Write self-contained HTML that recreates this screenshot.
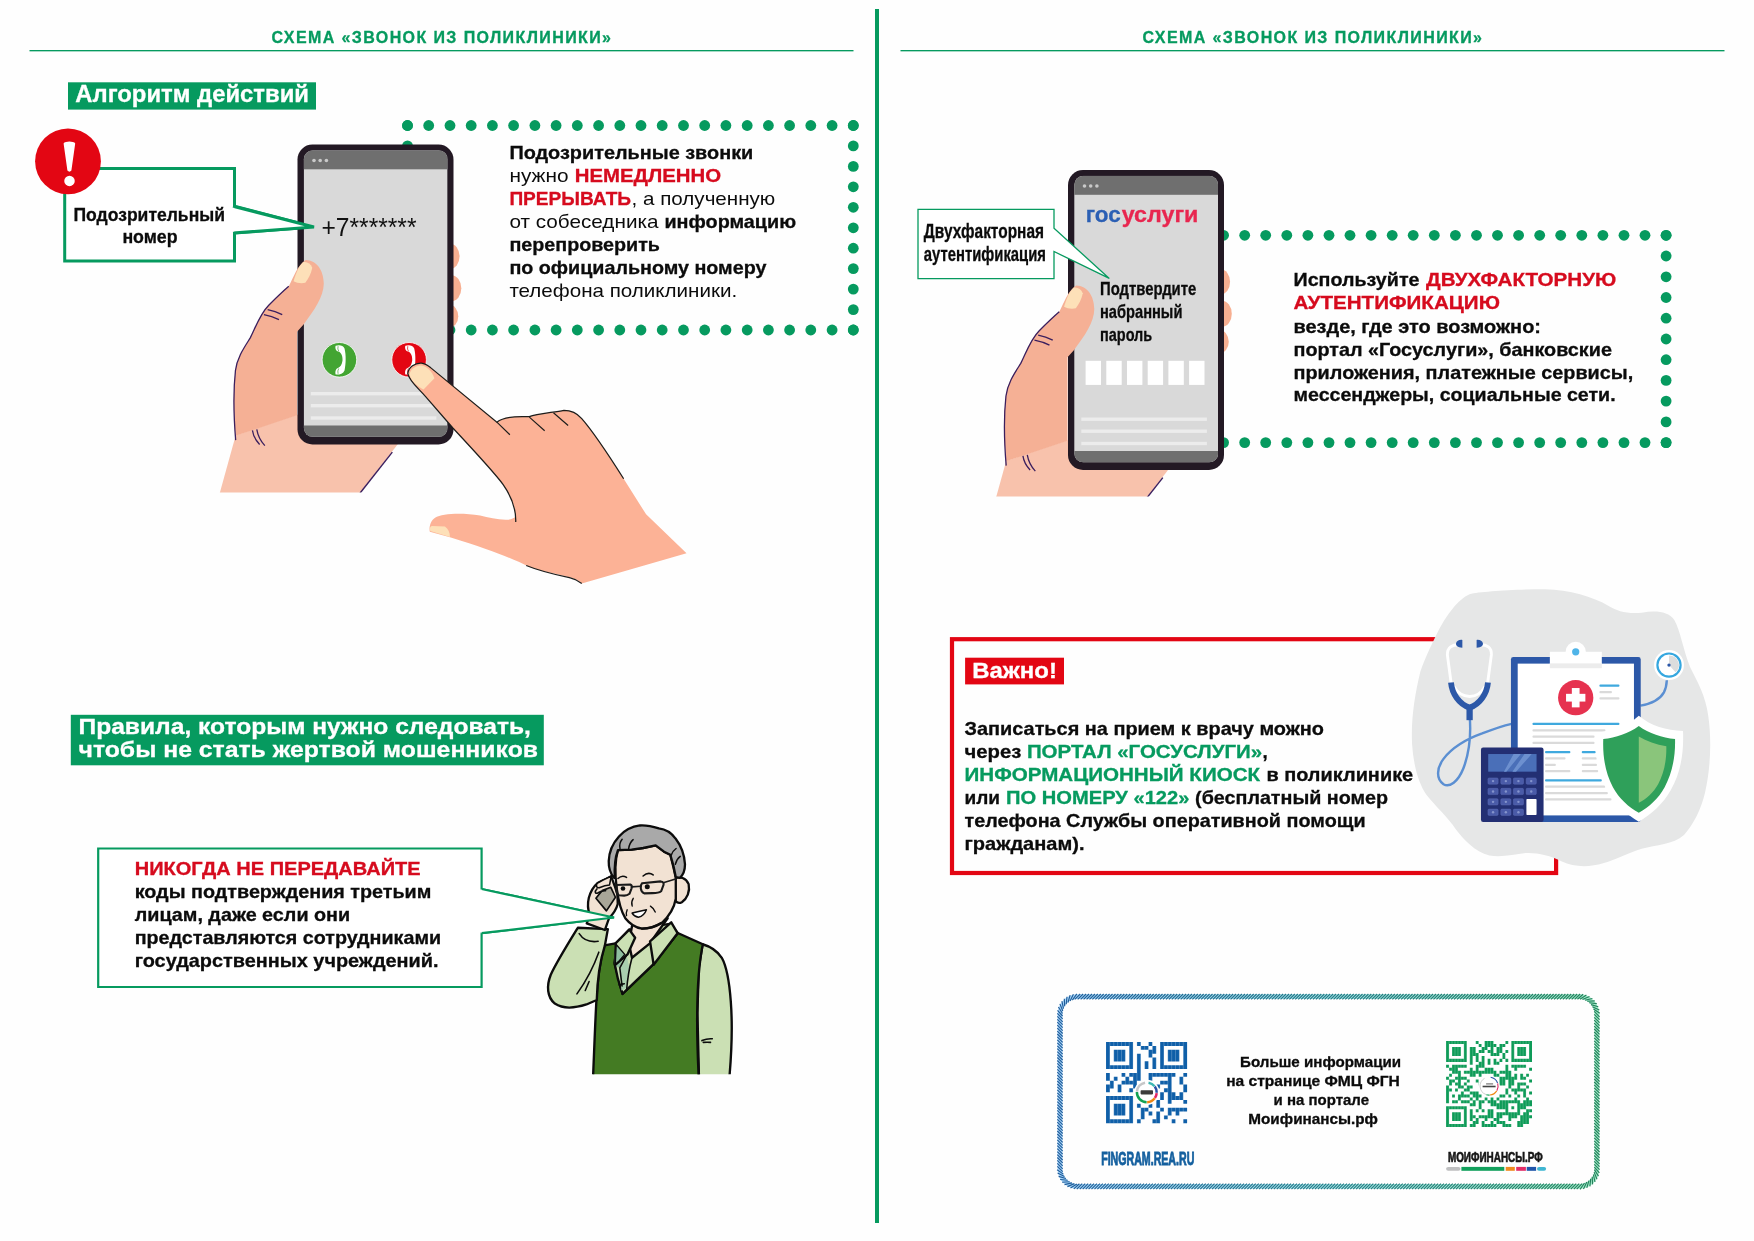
<!DOCTYPE html>
<html lang="ru"><head><meta charset="utf-8"><title>Схема «Звонок из поликлиники»</title>
<style>
html,body{margin:0;padding:0;background:#fff;}
body{width:1754px;height:1241px;overflow:hidden;font-family:"Liberation Sans",sans-serif;}
svg{display:block;}
svg text{font-family:"Liberation Sans",sans-serif;}
</style></head><body>
<svg width="1754" height="1241" viewBox="0 0 1754 1241">
<rect width="1754" height="1241" fill="#fefefe"/>
<defs><filter id="aa" filterUnits="userSpaceOnUse" x="0" y="0" width="1754" height="1241" color-interpolation-filters="sRGB"><feOffset dx="0" dy="0"/></filter></defs>
<g filter="url(#aa)">
<!-- s1_base -->
<rect x="875" y="9" width="4" height="1214" fill="#069A5F"/>
<rect x="29.5" y="50.0" width="824" height="1.35" fill="#069A5F"/>
<rect x="900.5" y="50.0" width="824" height="1.35" fill="#069A5F"/>
<text x="271.5" y="43.3" font-size="16.0" font-weight="bold" fill="#069A5F" textLength="339.5" lengthAdjust="spacing"  stroke="#069A5F" stroke-width="0.3">СХЕМА «ЗВОНОК ИЗ ПОЛИКЛИНИКИ»</text>
<text x="1142.5" y="43.3" font-size="16.0" font-weight="bold" fill="#069A5F" textLength="339.5" lengthAdjust="spacing"  stroke="#069A5F" stroke-width="0.3">СХЕМА «ЗВОНОК ИЗ ПОЛИКЛИНИКИ»</text>
<rect x="68" y="82.3" width="248" height="27.3" fill="#069A5F"/>
<text x="75.3" y="102.1" font-size="23.4" font-weight="bold" fill="#fff" textLength="233.7" lengthAdjust="spacingAndGlyphs"  stroke="#fff" stroke-width="0.3">Алгоритм действий</text>
<rect x="70.8" y="714.8" width="473" height="50.5" fill="#069A5F"/>
<text x="78.5" y="734.2" font-size="22.2" font-weight="bold" fill="#fff" textLength="452.4" lengthAdjust="spacingAndGlyphs"  stroke="#fff" stroke-width="0.3">Правила, которым нужно следовать,</text>
<text x="78.5" y="757.3" font-size="22.2" font-weight="bold" fill="#fff" textLength="459.5" lengthAdjust="spacingAndGlyphs"  stroke="#fff" stroke-width="0.3">чтобы не стать жертвой мошенников</text>
<g fill="#069A5F"><circle cx="407.5" cy="125.5" r="5.4"/><circle cx="428.7" cy="125.5" r="5.4"/><circle cx="450.0" cy="125.5" r="5.4"/><circle cx="471.2" cy="125.5" r="5.4"/><circle cx="492.4" cy="125.5" r="5.4"/><circle cx="513.6" cy="125.5" r="5.4"/><circle cx="534.9" cy="125.5" r="5.4"/><circle cx="556.1" cy="125.5" r="5.4"/><circle cx="577.3" cy="125.5" r="5.4"/><circle cx="598.6" cy="125.5" r="5.4"/><circle cx="619.8" cy="125.5" r="5.4"/><circle cx="641.0" cy="125.5" r="5.4"/><circle cx="662.2" cy="125.5" r="5.4"/><circle cx="683.5" cy="125.5" r="5.4"/><circle cx="704.7" cy="125.5" r="5.4"/><circle cx="725.9" cy="125.5" r="5.4"/><circle cx="747.2" cy="125.5" r="5.4"/><circle cx="768.4" cy="125.5" r="5.4"/><circle cx="789.6" cy="125.5" r="5.4"/><circle cx="810.8" cy="125.5" r="5.4"/><circle cx="832.1" cy="125.5" r="5.4"/><circle cx="853.3" cy="125.5" r="5.4"/><circle cx="407.5" cy="330.0" r="5.4"/><circle cx="428.7" cy="330.0" r="5.4"/><circle cx="450.0" cy="330.0" r="5.4"/><circle cx="471.2" cy="330.0" r="5.4"/><circle cx="492.4" cy="330.0" r="5.4"/><circle cx="513.6" cy="330.0" r="5.4"/><circle cx="534.9" cy="330.0" r="5.4"/><circle cx="556.1" cy="330.0" r="5.4"/><circle cx="577.3" cy="330.0" r="5.4"/><circle cx="598.6" cy="330.0" r="5.4"/><circle cx="619.8" cy="330.0" r="5.4"/><circle cx="641.0" cy="330.0" r="5.4"/><circle cx="662.2" cy="330.0" r="5.4"/><circle cx="683.5" cy="330.0" r="5.4"/><circle cx="704.7" cy="330.0" r="5.4"/><circle cx="725.9" cy="330.0" r="5.4"/><circle cx="747.2" cy="330.0" r="5.4"/><circle cx="768.4" cy="330.0" r="5.4"/><circle cx="789.6" cy="330.0" r="5.4"/><circle cx="810.8" cy="330.0" r="5.4"/><circle cx="832.1" cy="330.0" r="5.4"/><circle cx="853.3" cy="330.0" r="5.4"/><circle cx="853.3" cy="125.5" r="5.4"/><circle cx="853.3" cy="145.9" r="5.4"/><circle cx="853.3" cy="166.4" r="5.4"/><circle cx="853.3" cy="186.8" r="5.4"/><circle cx="853.3" cy="207.3" r="5.4"/><circle cx="853.3" cy="227.8" r="5.4"/><circle cx="853.3" cy="248.2" r="5.4"/><circle cx="853.3" cy="268.6" r="5.4"/><circle cx="853.3" cy="289.1" r="5.4"/><circle cx="853.3" cy="309.6" r="5.4"/><circle cx="853.3" cy="330.0" r="5.4"/><circle cx="407.5" cy="125.5" r="5.4"/><circle cx="407.5" cy="145.9" r="5.4"/><circle cx="407.5" cy="166.4" r="5.4"/><circle cx="407.5" cy="186.8" r="5.4"/><circle cx="407.5" cy="207.3" r="5.4"/><circle cx="407.5" cy="227.8" r="5.4"/><circle cx="407.5" cy="248.2" r="5.4"/><circle cx="407.5" cy="268.6" r="5.4"/><circle cx="407.5" cy="289.1" r="5.4"/><circle cx="407.5" cy="309.6" r="5.4"/><circle cx="407.5" cy="330.0" r="5.4"/></g>
<g fill="#069A5F"><circle cx="1223.6" cy="235.3" r="5.4"/><circle cx="1244.7" cy="235.3" r="5.4"/><circle cx="1265.7" cy="235.3" r="5.4"/><circle cx="1286.8" cy="235.3" r="5.4"/><circle cx="1307.9" cy="235.3" r="5.4"/><circle cx="1329.0" cy="235.3" r="5.4"/><circle cx="1350.0" cy="235.3" r="5.4"/><circle cx="1371.1" cy="235.3" r="5.4"/><circle cx="1392.2" cy="235.3" r="5.4"/><circle cx="1413.2" cy="235.3" r="5.4"/><circle cx="1434.3" cy="235.3" r="5.4"/><circle cx="1455.4" cy="235.3" r="5.4"/><circle cx="1476.5" cy="235.3" r="5.4"/><circle cx="1497.5" cy="235.3" r="5.4"/><circle cx="1518.6" cy="235.3" r="5.4"/><circle cx="1539.7" cy="235.3" r="5.4"/><circle cx="1560.7" cy="235.3" r="5.4"/><circle cx="1581.8" cy="235.3" r="5.4"/><circle cx="1602.9" cy="235.3" r="5.4"/><circle cx="1624.0" cy="235.3" r="5.4"/><circle cx="1645.0" cy="235.3" r="5.4"/><circle cx="1666.1" cy="235.3" r="5.4"/><circle cx="1223.6" cy="442.6" r="5.4"/><circle cx="1244.7" cy="442.6" r="5.4"/><circle cx="1265.7" cy="442.6" r="5.4"/><circle cx="1286.8" cy="442.6" r="5.4"/><circle cx="1307.9" cy="442.6" r="5.4"/><circle cx="1329.0" cy="442.6" r="5.4"/><circle cx="1350.0" cy="442.6" r="5.4"/><circle cx="1371.1" cy="442.6" r="5.4"/><circle cx="1392.2" cy="442.6" r="5.4"/><circle cx="1413.2" cy="442.6" r="5.4"/><circle cx="1434.3" cy="442.6" r="5.4"/><circle cx="1455.4" cy="442.6" r="5.4"/><circle cx="1476.5" cy="442.6" r="5.4"/><circle cx="1497.5" cy="442.6" r="5.4"/><circle cx="1518.6" cy="442.6" r="5.4"/><circle cx="1539.7" cy="442.6" r="5.4"/><circle cx="1560.7" cy="442.6" r="5.4"/><circle cx="1581.8" cy="442.6" r="5.4"/><circle cx="1602.9" cy="442.6" r="5.4"/><circle cx="1624.0" cy="442.6" r="5.4"/><circle cx="1645.0" cy="442.6" r="5.4"/><circle cx="1666.1" cy="442.6" r="5.4"/><circle cx="1666.1" cy="235.3" r="5.4"/><circle cx="1666.1" cy="256.0" r="5.4"/><circle cx="1666.1" cy="276.8" r="5.4"/><circle cx="1666.1" cy="297.5" r="5.4"/><circle cx="1666.1" cy="318.2" r="5.4"/><circle cx="1666.1" cy="339.0" r="5.4"/><circle cx="1666.1" cy="359.7" r="5.4"/><circle cx="1666.1" cy="380.4" r="5.4"/><circle cx="1666.1" cy="401.1" r="5.4"/><circle cx="1666.1" cy="421.9" r="5.4"/><circle cx="1666.1" cy="442.6" r="5.4"/></g>
<text x="509.4" y="159.2" font-size="18.5" font-weight="bold" fill="#0b0b0b" textLength="243.9" lengthAdjust="spacingAndGlyphs"  stroke="#0b0b0b" stroke-width="0.3">Подозрительные звонки</text>
<text x="509.4" y="181.9" font-size="18.5" font-weight="normal" fill="#0b0b0b" textLength="59.1" lengthAdjust="spacingAndGlyphs" >нужно</text>
<text x="574.7" y="181.9" font-size="18.5" font-weight="bold" fill="#D60B1E" textLength="146.4" lengthAdjust="spacingAndGlyphs"  stroke="#D60B1E" stroke-width="0.3">НЕМЕДЛЕННО</text>
<text x="509.4" y="205.0" font-size="18.5" font-weight="bold" fill="#D60B1E" textLength="121.7" lengthAdjust="spacingAndGlyphs"  stroke="#D60B1E" stroke-width="0.3">ПРЕРЫВАТЬ</text>
<text x="631.6" y="205.0" font-size="18.5" font-weight="normal" fill="#0b0b0b" textLength="143.7" lengthAdjust="spacingAndGlyphs" >, а полученную</text>
<text x="509.4" y="227.8" font-size="18.5" font-weight="normal" fill="#0b0b0b" textLength="149.1" lengthAdjust="spacingAndGlyphs" >от собеседника</text>
<text x="664.4" y="227.8" font-size="18.5" font-weight="bold" fill="#0b0b0b" textLength="131.7" lengthAdjust="spacingAndGlyphs"  stroke="#0b0b0b" stroke-width="0.3">информацию</text>
<text x="509.4" y="250.8" font-size="18.5" font-weight="bold" fill="#0b0b0b" textLength="150.6" lengthAdjust="spacingAndGlyphs"  stroke="#0b0b0b" stroke-width="0.3">перепроверить</text>
<text x="509.4" y="273.6" font-size="18.5" font-weight="bold" fill="#0b0b0b" textLength="257.0" lengthAdjust="spacingAndGlyphs"  stroke="#0b0b0b" stroke-width="0.3">по официальному номеру</text>
<text x="509.4" y="296.7" font-size="18.5" font-weight="normal" fill="#0b0b0b" textLength="227.8" lengthAdjust="spacingAndGlyphs" >телефона поликлиники.</text>
<text x="1293.5" y="286.1" font-size="18.5" font-weight="bold" fill="#0b0b0b" textLength="126.0" lengthAdjust="spacingAndGlyphs"  stroke="#0b0b0b" stroke-width="0.3">Используйте</text>
<text x="1426.0" y="286.1" font-size="18.5" font-weight="bold" fill="#D60B1E" textLength="190.2" lengthAdjust="spacingAndGlyphs"  stroke="#D60B1E" stroke-width="0.3">ДВУХФАКТОРНУЮ</text>
<text x="1293.5" y="309.2" font-size="18.5" font-weight="bold" fill="#D60B1E" textLength="206.4" lengthAdjust="spacingAndGlyphs"  stroke="#D60B1E" stroke-width="0.3">АУТЕНТИФИКАЦИЮ</text>
<text x="1293.5" y="332.6" font-size="18.5" font-weight="bold" fill="#0b0b0b" textLength="247.5" lengthAdjust="spacingAndGlyphs"  stroke="#0b0b0b" stroke-width="0.3">везде, где это возможно:</text>
<text x="1293.5" y="356.0" font-size="18.5" font-weight="bold" fill="#0b0b0b" textLength="318.4" lengthAdjust="spacingAndGlyphs"  stroke="#0b0b0b" stroke-width="0.3">портал «Госуслуги», банковские</text>
<text x="1293.5" y="379.0" font-size="18.5" font-weight="bold" fill="#0b0b0b" textLength="339.8" lengthAdjust="spacingAndGlyphs"  stroke="#0b0b0b" stroke-width="0.3">приложения, платежные сервисы,</text>
<text x="1293.5" y="401.0" font-size="18.5" font-weight="bold" fill="#0b0b0b" textLength="322.1" lengthAdjust="spacingAndGlyphs"  stroke="#0b0b0b" stroke-width="0.3">мессенджеры, социальные сети.</text>
<path d="M64.7,168.6 H234.5 V206.2 L314,227 L234.5,233 V261 H64.7 Z" fill="#fff" stroke="#069A5F" stroke-width="3" stroke-linejoin="miter"/>
<text x="73.5" y="220.8" font-size="18" font-weight="bold" fill="#0b0b0b" textLength="151.5" lengthAdjust="spacingAndGlyphs"  stroke="#0b0b0b" stroke-width="0.3">Подозрительный</text>
<text x="122.4" y="242.9" font-size="18" font-weight="bold" fill="#0b0b0b" textLength="55.2" lengthAdjust="spacingAndGlyphs"  stroke="#0b0b0b" stroke-width="0.3">номер</text>
<circle cx="68" cy="161.3" r="32.9" fill="#E30613"/>
<path d="M63.6,143.4 Q64,142 66,141.9 Q69.4,141.3 72.8,141.9 Q74.9,142 75.2,143.4 L71.4,170.6 Q69.4,172.8 67.4,170.6 Z" fill="#fff"/><circle cx="69.5" cy="180.9" r="5.25" fill="#fff"/>
<path d="M98.2,848.5 H481.6 V889 L614,917.5 L481.6,933.2 V987 H98.2 Z" fill="#fff" stroke="#069A5F" stroke-width="2.2"/>
<text x="134.7" y="874.5" font-size="18.5" font-weight="bold" fill="#D60B1E" textLength="285.9" lengthAdjust="spacingAndGlyphs"  stroke="#D60B1E" stroke-width="0.3">НИКОГДА НЕ ПЕРЕДАВАЙТЕ</text>
<text x="134.7" y="897.5" font-size="18.5" font-weight="bold" fill="#0b0b0b" textLength="296.7" lengthAdjust="spacingAndGlyphs"  stroke="#0b0b0b" stroke-width="0.3">коды подтверждения третьим</text>
<text x="134.7" y="920.9" font-size="18.5" font-weight="bold" fill="#0b0b0b" textLength="215.5" lengthAdjust="spacingAndGlyphs"  stroke="#0b0b0b" stroke-width="0.3">лицам, даже если они</text>
<text x="134.7" y="943.7" font-size="18.5" font-weight="bold" fill="#0b0b0b" textLength="306.4" lengthAdjust="spacingAndGlyphs"  stroke="#0b0b0b" stroke-width="0.3">представляются сотрудниками</text>
<text x="134.7" y="967.1" font-size="18.5" font-weight="bold" fill="#0b0b0b" textLength="303.9" lengthAdjust="spacingAndGlyphs"  stroke="#0b0b0b" stroke-width="0.3">государственных учреждений.</text>
<rect x="952" y="639.2" width="604.1" height="233.8" fill="none" stroke="#E30613" stroke-width="4.2"/>
<rect x="965.1" y="657.7" width="98.9" height="26.7" fill="#E30613"/>
<text x="972.2" y="677.6" font-size="22" font-weight="bold" fill="#fff" textLength="84.7" lengthAdjust="spacingAndGlyphs"  stroke="#fff" stroke-width="0.3">Важно!</text>
<text x="964.5" y="734.9" font-size="18.5" font-weight="bold" fill="#0b0b0b" textLength="359.5" lengthAdjust="spacingAndGlyphs"  stroke="#0b0b0b" stroke-width="0.3">Записаться на прием к врачу можно</text>
<text x="964.5" y="757.7" font-size="18.5" font-weight="bold" fill="#0b0b0b" textLength="56.8" lengthAdjust="spacingAndGlyphs"  stroke="#0b0b0b" stroke-width="0.3">через</text>
<text x="1026.9" y="757.7" font-size="18.5" font-weight="bold" fill="#069A5F" textLength="235.2" lengthAdjust="spacingAndGlyphs"  stroke="#069A5F" stroke-width="0.3">ПОРТАЛ «ГОСУСЛУГИ»</text>
<text x="1262.6" y="757.7" font-size="18.5" font-weight="bold" fill="#0b0b0b" textLength="5.2" lengthAdjust="spacingAndGlyphs"  stroke="#0b0b0b" stroke-width="0.3">,</text>
<text x="964.5" y="781.1" font-size="18.5" font-weight="bold" fill="#069A5F" textLength="295.6" lengthAdjust="spacingAndGlyphs"  stroke="#069A5F" stroke-width="0.3">ИНФОРМАЦИОННЫЙ КИОСК</text>
<text x="1266.4" y="781.1" font-size="18.5" font-weight="bold" fill="#0b0b0b" textLength="146.8" lengthAdjust="spacingAndGlyphs"  stroke="#0b0b0b" stroke-width="0.3">в поликлинике</text>
<text x="964.5" y="803.9" font-size="18.5" font-weight="bold" fill="#0b0b0b" textLength="35.5" lengthAdjust="spacingAndGlyphs"  stroke="#0b0b0b" stroke-width="0.3">или</text>
<text x="1006.1" y="803.9" font-size="18.5" font-weight="bold" fill="#069A5F" textLength="183.3" lengthAdjust="spacingAndGlyphs"  stroke="#069A5F" stroke-width="0.3">ПО НОМЕРУ «122»</text>
<text x="1195.1" y="803.9" font-size="18.5" font-weight="bold" fill="#0b0b0b" textLength="193.0" lengthAdjust="spacingAndGlyphs"  stroke="#0b0b0b" stroke-width="0.3">(бесплатный номер</text>
<text x="964.5" y="827.3" font-size="18.5" font-weight="bold" fill="#0b0b0b" textLength="401.1" lengthAdjust="spacingAndGlyphs"  stroke="#0b0b0b" stroke-width="0.3">телефона Службы оперативной помощи</text>
<text x="964.5" y="850.0" font-size="18.5" font-weight="bold" fill="#0b0b0b" textLength="120.0" lengthAdjust="spacingAndGlyphs"  stroke="#0b0b0b" stroke-width="0.3">гражданам).</text>
<!-- s2_phones -->
<clipPath id="hc1"><rect x="0" y="0" width="1754" height="492.4"/></clipPath>
<g clip-path="url(#hc1)"><g transform="translate(210,240) scale(0.21758)">
<path d="M118,898 L400,803 L900,803 L862,940 L582,1300 L7,1300 Z" fill="#F8C2AC"/>
<path d="M838,975 L690,1163" stroke="#3B1F5E" stroke-width="6.5" fill="none"/>
<ellipse cx="1104" cy="75" rx="43" ry="58" fill="#F7AF91"/><ellipse cx="1110" cy="222" rx="45" ry="60" fill="#F7AF91"/><ellipse cx="1100" cy="350" rx="41" ry="52" fill="#F7AF91"/>
</g></g>
<g transform="translate(297.5,144.5)">
<rect x="0" y="0" width="156" height="300" rx="15" fill="#231924"/>
<clipPath id="scr297"><rect x="6.3" y="5.8" width="143.9" height="286.5" rx="9"/></clipPath>
<g clip-path="url(#scr297)"><rect x="6" y="5.8" width="144" height="287" fill="#D9D9D9"/><rect x="6" y="5.8" width="144" height="19" fill="#6F6F6F"/><rect x="6" y="281" width="144" height="12" fill="#6F6F6F"/></g>
<circle cx="16.5" cy="16" r="1.8" fill="#C9C9C9"/><circle cx="22.7" cy="16" r="1.8" fill="#C9C9C9"/><circle cx="28.9" cy="16" r="1.8" fill="#C9C9C9"/>
<rect x="13.3" y="247.5" width="125.6" height="3.4" fill="#ECECEC"/><rect x="13.3" y="259.5" width="125.6" height="3.4" fill="#ECECEC"/><rect x="13.3" y="271.8" width="125.6" height="3.4" fill="#ECECEC"/></g>
<text x="321.5" y="236.2" font-size="25.5" fill="#111" textLength="95" lengthAdjust="spacingAndGlyphs">+7*******</text>
<g transform="translate(339.4,359.8)"><circle r="17.3" fill="#43A532" stroke="#fff" stroke-width="0.8"/><path d="M-3.76,-14.02 C-4.45,-11.97 -3.76,-8.89 -1.03,-8.21 C2.39,-7.18 3.42,-2.39 3.08,1.03 C2.39,5.13 1.03,7.18 -1.03,7.87 C-3.76,8.55 -4.45,11.97 -3.76,14.71 C-0.34,15.05 3.76,14.02 5.13,10.6 C6.5,4.45 6.84,-4.45 5.13,-11.29 C3.76,-14.71 -0.34,-15.05 -3.76,-14.02 Z" fill="#fff"/><path d="M-1.3,-13.6 Q-2.2,-10.5 -0.6,-8.6 M-1.3,14 Q-2.2,11 -0.6,8.6" stroke="#43A532" stroke-width="0.7" fill="none"/></g>
<g transform="translate(409.1,359.8)"><circle r="17.3" fill="#E30613" stroke="#fff" stroke-width="0.8"/><path d="M-3.76,-14.02 C-4.45,-11.97 -3.76,-8.89 -1.03,-8.21 C2.39,-7.18 3.42,-2.39 3.08,1.03 C2.39,5.13 1.03,7.18 -1.03,7.87 C-3.76,8.55 -4.45,11.97 -3.76,14.71 C-0.34,15.05 3.76,14.02 5.13,10.6 C6.5,4.45 6.84,-4.45 5.13,-11.29 C3.76,-14.71 -0.34,-15.05 -3.76,-14.02 Z" fill="#fff"/><path d="M-1.3,-13.6 Q-2.2,-10.5 -0.6,-8.6 M-1.3,14 Q-2.2,11 -0.6,8.6" stroke="#E30613" stroke-width="0.7" fill="none"/></g>
<g clip-path="url(#hc1)"><g transform="translate(210,240) scale(0.21758)">
<path d="M440,92 C492,94 522,140 523,200 C522,262 480,322 430,388 L400,422 L400,805 L118,900 C108,800 106,700 117,600 C124,540 160,490 185,450 C210,400 230,340 270,300 C300,270 340,232 362,213 C385,170 400,118 440,92 Z" fill="#F5B095"/>
<path d="M362,213 C340,232 300,270 270,300 C230,340 210,400 185,450 C160,490 124,540 117,600 C106,700 108,800 118,920" stroke="#3B1F5E" stroke-width="6" fill="none"/>
<path d="M265,320 Q300,326 332,343 M248,343 Q285,350 317,366" stroke="#3B1F5E" stroke-width="6" fill="none"/>
<path d="M195,875 Q200,910 228,940 M215,870 Q222,912 252,945" stroke="#3B1F5E" stroke-width="6" fill="none"/>
<path d="M384,190 C395,150 410,118 428,102 C445,98 462,108 470,128 C465,155 452,178 438,197 C420,202 398,198 384,190 Z" fill="#FDE0B8"/>
</g></g>
<path d="M233,206.2 L314,227 L233,233" fill="#fff" stroke="#069A5F" stroke-width="3"/>
<rect x="228" y="207.8" width="6.2" height="23.8" fill="#fff"/>
<g transform="translate(390,340) scale(0.20956)">
<path d="M85,160 C88,130 120,108 150,110 C170,112 185,125 195,133 L510,392 C535,372 585,362 665,366 C700,352 780,346 830,336 C870,336 895,352 915,375 C950,415 1000,480 1115,662 L1222,832 L1415,1018 L915,1162 C890,1138 860,1132 760,1110 C720,1100 680,1088 650,1076 C600,1050 480,1000 290,942 L190,915 C185,890 195,860 215,848 C250,828 340,822 430,838 C470,848 520,860 560,858 C580,856 592,850 598,845 C600,800 575,740 540,690 C500,635 440,570 300,420 L170,270 C130,225 95,195 85,160 Z" fill="#FCB296"/>
<path d="M600,868 C602,800 575,740 540,690 C500,635 440,570 300,420 L170,270 C130,225 92,195 85,160 C88,130 120,108 150,110 C170,112 185,125 195,133 L510,392 C535,372 585,362 665,366 C700,352 780,346 830,336 C870,336 895,352 915,375 C950,415 1000,480 1115,662" stroke="#1d1d1b" stroke-width="6" fill="none"/>
<path d="M510,392 L572,452 M665,368 L738,433 M780,347 L850,408" stroke="#1d1d1b" stroke-width="5.5" fill="none"/>
<path d="M650,1076 C720,1105 800,1122 860,1135 C885,1140 900,1150 915,1162" stroke="#1d1d1b" stroke-width="5.5" fill="none"/>
<path d="M93,165 C98,138 125,120 150,122 C175,124 200,150 212,182 L160,236 C130,222 100,195 93,165 Z" fill="#FDE0B8"/>
<path d="M192,912 C188,898 192,890 200,888 L262,890 C278,900 286,920 286,940 Z" fill="#FDE0B8"/>
</g>
<clipPath id="hc2"><rect x="0" y="0" width="1754" height="496.5"/></clipPath>
<g clip-path="url(#hc2)"><g transform="translate(980.5,265.5) scale(0.21758)">
<path d="M118,898 L400,803 L900,803 L862,940 L582,1300 L7,1300 Z" fill="#F8C2AC"/>
<path d="M838,975 L690,1163" stroke="#3B1F5E" stroke-width="6.5" fill="none"/>
<ellipse cx="1104" cy="75" rx="43" ry="58" fill="#F7AF91"/><ellipse cx="1110" cy="222" rx="45" ry="60" fill="#F7AF91"/><ellipse cx="1100" cy="350" rx="41" ry="52" fill="#F7AF91"/>
</g></g>
<g transform="translate(1068.0,170.0)">
<rect x="0" y="0" width="156" height="300" rx="15" fill="#231924"/>
<clipPath id="scr1068"><rect x="6.3" y="5.8" width="143.9" height="286.5" rx="9"/></clipPath>
<g clip-path="url(#scr1068)"><rect x="6" y="5.8" width="144" height="287" fill="#D9D9D9"/><rect x="6" y="5.8" width="144" height="19" fill="#6F6F6F"/><rect x="6" y="281" width="144" height="12" fill="#6F6F6F"/></g>
<circle cx="16.5" cy="16" r="1.8" fill="#C9C9C9"/><circle cx="22.7" cy="16" r="1.8" fill="#C9C9C9"/><circle cx="28.9" cy="16" r="1.8" fill="#C9C9C9"/>
<rect x="13.3" y="247.5" width="125.6" height="3.4" fill="#ECECEC"/><rect x="13.3" y="259.5" width="125.6" height="3.4" fill="#ECECEC"/><rect x="13.3" y="271.8" width="125.6" height="3.4" fill="#ECECEC"/></g>
<text x="1085.8" y="222.2" font-size="22.8" font-weight="bold" fill="#2B5FB4" textLength="35.0" lengthAdjust="spacingAndGlyphs"  stroke="#2B5FB4" stroke-width="0.3">гос</text>
<text x="1121.7" y="222.2" font-size="22.8" font-weight="bold" fill="#E8264F" textLength="76.7" lengthAdjust="spacingAndGlyphs"  stroke="#E8264F" stroke-width="0.3">услуги</text>
<text x="1100.0" y="295.0" font-size="18.2" font-weight="bold" fill="#0b0b0b" textLength="96.3" lengthAdjust="spacingAndGlyphs"  stroke="#0b0b0b" stroke-width="0.3">Подтвердите</text>
<text x="1100.0" y="318.2" font-size="18.2" font-weight="bold" fill="#0b0b0b" textLength="82.4" lengthAdjust="spacingAndGlyphs"  stroke="#0b0b0b" stroke-width="0.3">набранный</text>
<text x="1100.0" y="341.4" font-size="18.2" font-weight="bold" fill="#0b0b0b" textLength="52.2" lengthAdjust="spacingAndGlyphs"  stroke="#0b0b0b" stroke-width="0.3">пароль</text>
<rect x="1085.6" y="360.8" width="15.4" height="24.1" fill="#fff"/><rect x="1106.3" y="360.8" width="15.4" height="24.1" fill="#fff"/><rect x="1127.0" y="360.8" width="15.4" height="24.1" fill="#fff"/><rect x="1147.7" y="360.8" width="15.4" height="24.1" fill="#fff"/><rect x="1168.4" y="360.8" width="15.4" height="24.1" fill="#fff"/><rect x="1189.1" y="360.8" width="15.4" height="24.1" fill="#fff"/>
<g clip-path="url(#hc2)"><g transform="translate(980.5,265.5) scale(0.21758)">
<path d="M440,92 C492,94 522,140 523,200 C522,262 480,322 430,388 L400,422 L400,805 L118,900 C108,800 106,700 117,600 C124,540 160,490 185,450 C210,400 230,340 270,300 C300,270 340,232 362,213 C385,170 400,118 440,92 Z" fill="#F5B095"/>
<path d="M362,213 C340,232 300,270 270,300 C230,340 210,400 185,450 C160,490 124,540 117,600 C106,700 108,800 118,920" stroke="#3B1F5E" stroke-width="6" fill="none"/>
<path d="M265,320 Q300,326 332,343 M248,343 Q285,350 317,366" stroke="#3B1F5E" stroke-width="6" fill="none"/>
<path d="M195,875 Q200,910 228,940 M215,870 Q222,912 252,945" stroke="#3B1F5E" stroke-width="6" fill="none"/>
<path d="M384,190 C395,150 410,118 428,102 C445,98 462,108 470,128 C465,155 452,178 438,197 C420,202 398,198 384,190 Z" fill="#FDE0B8"/>
</g></g>
<path d="M918,209.4 H1054 V228.3 L1109.3,278.4 L1054,251.5 V278.7 H918 Z" fill="#fff" stroke="#069A5F" stroke-width="1.3"/>
<text x="923.8" y="238.4" font-size="20" font-weight="bold" fill="#0b0b0b" textLength="120.2" lengthAdjust="spacingAndGlyphs"  stroke="#0b0b0b" stroke-width="0.3">Двухфакторная</text>
<text x="923.8" y="261.0" font-size="20" font-weight="bold" fill="#0b0b0b" textLength="122.2" lengthAdjust="spacingAndGlyphs"  stroke="#0b0b0b" stroke-width="0.3">аутентификация</text>
<!-- s3_man -->
<clipPath id="manclip"><rect x="0" y="0" width="1754" height="1074.2"/></clipPath>
<g clip-path="url(#manclip)"><g transform="translate(530,810) scale(0.22563)" stroke-linejoin="round" stroke-linecap="round">
<path d="M765,595 C800,605 830,625 850,655 C875,700 885,780 890,850 C896,930 895,1050 885,1170 L883,1230 L750,1230 L742,900 L748,700 Z" fill="#CBE0B4" stroke="#0c0c0c" stroke-width="10.5"/>
<path d="M762,1022 Q785,1012 808,1014 M768,1030 Q785,1028 800,1030" stroke="#0c0c0c" stroke-width="7" fill="none"/>
<path d="M330,600 C312,660 300,740 294,850 C288,960 284,1080 280,1170 L278,1230 L750,1230 C742,1080 740,980 741,900 C742,800 748,680 766,595 L655,545 L545,685 L410,815 L375,680 L385,590 Z" fill="#447B23" stroke="#0c0c0c" stroke-width="10.5"/>
<path d="M385,590 L440,530 L620,505 L655,545 L545,685 L410,815 L390,750 L375,680 Z" fill="#CBE0B4" stroke="#0c0c0c" stroke-width="10.5"/>
<path d="M455,500 L610,480 L530,592 L452,655 L438,590 Z" fill="#F2E2D3" stroke="#0c0c0c" stroke-width="10.5"/>
<path d="M378,600 L420,640 L395,700 L372,682 Z" fill="#8FBF9F"/>
<path d="M398,700 L430,650 L440,700 L425,790 L405,800 Z" fill="#A9CFAF"/>
<path d="M452,655 C440,700 432,750 428,800 M430,640 L398,700 L408,780 M395,775 L418,770" stroke="#0c0c0c" stroke-width="7" fill="none"/>
<path d="M380,590 L440,530 L466,566 L432,640 L378,686 Z" fill="#CBE0B4" stroke="#0c0c0c" stroke-width="10.5"/>
<path d="M382,596 L420,640 L392,672 L378,684 Z" fill="#8FBF9F" stroke="#0c0c0c" stroke-width="6"/>
<path d="M532,582 L626,498 L654,546 L548,686 Z" fill="#CBE0B4" stroke="#0c0c0c" stroke-width="10.5"/>
<path d="M212,522 C170,590 120,670 92,730 C72,780 76,830 110,858 C150,885 210,875 250,862 L296,842 C298,760 310,670 332,600 L345,528 Z" fill="#CBE0B4" stroke="#0c0c0c" stroke-width="10.5"/>
<path d="M218,548 Q245,590 302,582 M208,815 C240,770 280,700 305,630 M245,800 L262,760" stroke="#0c0c0c" stroke-width="7" fill="none"/>
</g></g>
<g transform="translate(575,815) scale(0.104755)" stroke-linejoin="round" stroke-linecap="round">
<path d="M345,585 C320,600 260,630 215,650 C180,680 150,725 132,790 C118,850 125,910 140,950 L112,1035 L285,1098 L325,985 C360,950 395,900 408,850 L405,760 L380,680 Z" fill="#F2E2D3" stroke="#0c0c0c" stroke-width="22"/>
<path d="M955,600 C1000,585 1060,600 1085,660 C1100,730 1070,800 1020,832 C1000,842 975,838 962,825 Z" fill="#F2E2D3" stroke="#0c0c0c" stroke-width="22"/>
<path d="M410,335 L540,330 L650,315 L770,290 L850,350 L910,380 L940,500 L962,600 L962,800 C950,870 915,950 830,1030 C770,1065 700,1085 640,1085 C575,1075 520,1035 480,985 C440,920 415,820 398,700 C385,600 375,450 410,335 Z" fill="#F2E2D3" stroke="#0c0c0c" stroke-width="22"/>
<path d="M372,600 C340,560 320,500 322,440 C325,360 360,270 420,205 C470,150 540,110 620,100 C690,96 750,112 800,128 C860,135 920,170 960,225 C1010,290 1045,390 1050,470 C1050,530 1030,575 1000,600 L962,592 C950,520 930,440 910,380 L850,350 L770,290 L650,315 L540,330 L410,335 C385,400 375,500 380,600 Z" fill="#A9A9A9" stroke="#0c0c0c" stroke-width="22"/>
<path d="M450,232 Q418,270 430,325 M555,235 Q520,265 512,322 M965,320 Q930,345 918,385 M1005,395 Q970,420 958,470" stroke="#0c0c0c" stroke-width="14" fill="none"/>
<path d="M395,668 L528,664 Q548,672 540,700 L520,752 Q500,770 470,770 L420,766 Q402,760 398,730 Z M640,652 L818,634 Q852,640 845,668 L822,728 Q800,745 740,746 L660,748 Q635,740 628,700 Q625,668 640,652 Z" fill="none" stroke="#1a1a1a" stroke-width="20"/>
<path d="M540,686 L630,680 M850,645 L960,612" stroke="#1a1a1a" stroke-width="15" fill="none"/>
<circle cx="458" cy="702" r="22" fill="#0c0c0c"/><circle cx="690" cy="684" r="24" fill="#0c0c0c"/>
<path d="M410,606 Q450,568 492,596 M650,582 Q700,538 746,572" stroke="#0c0c0c" stroke-width="15" fill="none"/>
<path d="M556,795 Q532,832 546,870 M720,870 Q752,890 766,926 M498,905 Q486,932 492,960" stroke="#0c0c0c" stroke-width="13" fill="none"/>
<path d="M545,936 L682,905 Q660,965 605,976 Q565,968 545,936 Z" fill="#fff" stroke="#0c0c0c" stroke-width="14"/>
<path d="M640,1085 Q740,1080 822,1030" stroke="#0c0c0c" stroke-width="22" fill="none"/>
<path d="M200,795 L258,722 L342,690 L386,785 L300,915 Z" fill="#A9A698" stroke="#0c0c0c" stroke-width="16"/>
<path d="M345,585 C300,605 250,628 215,650 C195,672 205,700 232,694 C262,680 300,668 330,668 Z" fill="#F2E2D3" stroke="#0c0c0c" stroke-width="15"/>
<path d="M210,705 C185,730 190,760 222,742 C250,725 270,720 292,722" fill="#F2E2D3" stroke="#0c0c0c" stroke-width="15"/>
</g>
<path d="M480.5,889 L614,917.5 L480.5,933.2 Z" fill="#fff"/>
<path d="M481.6,889 L614,917.5 L481.6,933.2" fill="none" stroke="#069A5F" stroke-width="2.2"/>
<!-- s4_medical -->
<g transform="translate(1400,580) scale(0.24169)">
<path d="M290,58 C330,48 480,38 600,38 C700,40 800,70 860,105 C900,130 940,140 1000,135 C1060,125 1110,130 1135,165 C1160,210 1170,280 1200,360 C1230,420 1265,480 1275,560 C1290,660 1285,780 1262,880 C1245,950 1215,1010 1175,1055 C1130,1095 1060,1095 1000,1112 C940,1130 890,1160 840,1172 C790,1188 720,1190 670,1165 C620,1140 570,1128 520,1130 C470,1135 420,1150 370,1140 C310,1125 260,1070 230,1030 C200,985 150,940 110,890 C75,840 55,760 50,680 C45,580 60,480 84,380 C105,320 125,280 146,236 C170,185 195,145 220,116 C240,92 262,70 290,58 Z" fill="#E6E7E7"/>
<path d="M288,560 C295,640 285,720 262,780 C240,835 205,860 180,845 C150,825 150,780 180,740 C215,695 270,660 340,635 C390,615 430,602 462,595" fill="none" stroke="#5B8FD2" stroke-width="10" stroke-linecap="round"/>
<path d="M995,520 C1040,512 1075,495 1092,465 C1100,450 1103,435 1104,415" fill="none" stroke="#5B8FD2" stroke-width="10"/>
<circle cx="1113" cy="352" r="62" fill="#fff"/><path d="M1113,352 L1113,312 A40,40 0 0 1 1140,382 Z" fill="#DCDDDD"/><circle cx="1113" cy="352" r="48" fill="none" stroke="#35A7DF" stroke-width="9"/><circle cx="1113" cy="352" r="7" fill="#2C58A8"/>
<path d="M250,268 C215,265 195,280 196,310 L212,430 M325,268 C360,265 380,280 378,310 L362,430" fill="none" stroke="#fff" stroke-width="12" stroke-linecap="round"/>
<path d="M222,440 C240,470 265,482 288,482 C312,482 335,470 352,440" fill="none" stroke="#fff" stroke-width="12"/>
<path d="M211,424 C215,470 245,515 288,528 C330,515 360,470 364,424" fill="none" stroke="#2C58A8" stroke-width="24"/>
<path d="M288,520 L288,580" stroke="#2C58A8" stroke-width="26"/>
<path d="M258,248 L258,280 C238,280 230,270 232,262 C234,252 246,246 258,248 Z M317,248 L317,280 C337,280 345,270 343,262 C341,252 329,246 317,248 Z" fill="#2C58A8"/>
<rect x="459" y="319" width="537" height="682" rx="10" fill="#2C58A8"/>
<rect x="487" y="346" width="481" height="628" fill="#fff"/>
<circle cx="727" cy="298" r="42" fill="#fff"/><rect x="620" y="297" width="215" height="52" fill="#fff"/><rect x="620" y="345" width="215" height="20" fill="#ECECEC"/><circle cx="727" cy="297" r="15" fill="#4FB4E8"/>
<circle cx="727" cy="487" r="73" fill="#E6324F"/><rect x="711" y="447" width="32" height="80" fill="#fff"/><rect x="687" y="471" width="80" height="32" fill="#fff"/>
<rect x="825" y="432.5" width="83" height="9" rx="4" fill="#3FA9DE"/><rect x="825" y="459.5" width="52" height="9" rx="4" fill="#DADADA"/><rect x="825" y="485.5" width="83" height="9" rx="4" fill="#DADADA"/><rect x="548" y="590.5" width="360" height="9" rx="4" fill="#3FA9DE"/><rect x="548" y="617.5" width="302" height="9" rx="4" fill="#DADADA"/><rect x="548" y="643.5" width="257" height="9" rx="4" fill="#DADADA"/><rect x="548" y="669.5" width="257" height="9" rx="4" fill="#DADADA"/><rect x="600" y="707.5" width="105" height="9" rx="4" fill="#3FA9DE"/><rect x="752" y="707.5" width="58" height="9" rx="4" fill="#3FA9DE"/><rect x="600" y="733.5" width="85" height="9" rx="4" fill="#DADADA"/><rect x="600" y="760.5" width="45" height="9" rx="4" fill="#DADADA"/><rect x="600" y="786.5" width="105" height="9" rx="4" fill="#DADADA"/><rect x="752" y="733.5" width="63" height="9" rx="4" fill="#DADADA"/><rect x="752" y="760.5" width="63" height="9" rx="4" fill="#DADADA"/><rect x="752" y="786.5" width="68" height="9" rx="4" fill="#DADADA"/><rect x="600" y="824.5" width="235" height="9" rx="4" fill="#3FA9DE"/><rect x="600" y="850.5" width="250" height="9" rx="4" fill="#DADADA"/><rect x="600" y="877.5" width="260" height="9" rx="4" fill="#DADADA"/><rect x="600" y="903.5" width="275" height="9" rx="4" fill="#DADADA"/>
<rect x="335" y="693" width="259" height="308" rx="9" fill="#232F73"/>
<rect x="365" y="720" width="200" height="73" fill="#4A6FB8"/><path d="M470,720 L500,720 L440,793 L430,793 Z M515,720 L545,720 L480,793 L465,793 Z" fill="#6D90CF"/>
<rect x="364" y="819" width="42" height="26" rx="5" fill="#4A5BA8" stroke="#5D6DB5" stroke-width="2"/><circle cx="385" cy="832" r="5" fill="#8594CC"/><rect x="417" y="819" width="42" height="26" rx="5" fill="#4A5BA8" stroke="#5D6DB5" stroke-width="2"/><circle cx="438" cy="832" r="5" fill="#8594CC"/><rect x="469" y="819" width="42" height="26" rx="5" fill="#4A5BA8" stroke="#5D6DB5" stroke-width="2"/><circle cx="490" cy="832" r="5" fill="#8594CC"/><rect x="522" y="819" width="42" height="26" rx="5" fill="#4A5BA8" stroke="#5D6DB5" stroke-width="2"/><circle cx="543" cy="832" r="5" fill="#8594CC"/><rect x="364" y="862" width="42" height="26" rx="5" fill="#4A5BA8" stroke="#5D6DB5" stroke-width="2"/><circle cx="385" cy="875" r="5" fill="#8594CC"/><rect x="417" y="862" width="42" height="26" rx="5" fill="#4A5BA8" stroke="#5D6DB5" stroke-width="2"/><circle cx="438" cy="875" r="5" fill="#8594CC"/><rect x="469" y="862" width="42" height="26" rx="5" fill="#4A5BA8" stroke="#5D6DB5" stroke-width="2"/><circle cx="490" cy="875" r="5" fill="#8594CC"/><rect x="522" y="862" width="42" height="26" rx="5" fill="#4A5BA8" stroke="#5D6DB5" stroke-width="2"/><circle cx="543" cy="875" r="5" fill="#8594CC"/><rect x="364" y="905" width="42" height="26" rx="5" fill="#4A5BA8" stroke="#5D6DB5" stroke-width="2"/><circle cx="385" cy="918" r="5" fill="#8594CC"/><rect x="417" y="905" width="42" height="26" rx="5" fill="#4A5BA8" stroke="#5D6DB5" stroke-width="2"/><circle cx="438" cy="918" r="5" fill="#8594CC"/><rect x="469" y="905" width="42" height="26" rx="5" fill="#4A5BA8" stroke="#5D6DB5" stroke-width="2"/><circle cx="490" cy="918" r="5" fill="#8594CC"/><rect x="364" y="948" width="42" height="26" rx="5" fill="#4A5BA8" stroke="#5D6DB5" stroke-width="2"/><circle cx="385" cy="961" r="5" fill="#8594CC"/><rect x="417" y="948" width="42" height="26" rx="5" fill="#4A5BA8" stroke="#5D6DB5" stroke-width="2"/><circle cx="438" cy="961" r="5" fill="#8594CC"/><rect x="469" y="948" width="42" height="26" rx="5" fill="#4A5BA8" stroke="#5D6DB5" stroke-width="2"/><circle cx="490" cy="961" r="5" fill="#8594CC"/><rect x="523" y="906" width="42" height="66" rx="3" fill="#fff"/>
<path d="M988,562 C1040,605 1100,622 1171,625 C1175,720 1160,800 1120,870 C1090,925 1040,970 988,1000 C936,970 886,925 856,870 C818,800 805,720 808,632 C880,625 940,605 988,562 Z" fill="#fff"/>
<path d="M988,604 C1030,635 1085,652 1138,658 C1140,735 1125,800 1095,858 C1070,905 1030,940 988,963 C946,940 906,905 881,858 C851,800 838,735 841,658 C893,652 946,635 988,604 Z" fill="#2FA05A"/>
<path d="M988,648 C1020,668 1060,682 1102,688 C1103,750 1092,800 1068,845 C1048,880 1020,905 988,922 Z" fill="#8AC57B"/>
</g>
<!-- s5_qr -->
<defs><linearGradient id="qgd" gradientUnits="userSpaceOnUse" x1="1057" y1="0" x2="1600" y2="0"><stop offset="0" stop-color="#215C9A"/><stop offset="0.5" stop-color="#237A88"/><stop offset="1" stop-color="#25805A"/></linearGradient><linearGradient id="qgl" gradientUnits="userSpaceOnUse" x1="1057" y1="0" x2="1600" y2="0"><stop offset="0" stop-color="#A6D5FB"/><stop offset="0.5" stop-color="#A2E2E2"/><stop offset="1" stop-color="#9EECC8"/></linearGradient></defs>
<rect x="1060.0" y="996.7" width="536.9" height="189.7" rx="17.5" fill="none" stroke="url(#qgl)" stroke-width="4.800000000000001"/>
<path d="M1074.8,999.4L1080.2,994.0M1077.7,999.4L1083.1,994.0M1080.7,999.4L1086.1,994.0M1083.6,999.4L1089.0,994.0M1086.6,999.4L1092.0,994.0M1089.5,999.4L1094.9,994.0M1092.4,999.4L1097.8,994.0M1095.4,999.4L1100.8,994.0M1098.3,999.4L1103.7,994.0M1101.3,999.4L1106.7,994.0M1104.2,999.4L1109.6,994.0M1107.1,999.4L1112.5,994.0M1110.1,999.4L1115.5,994.0M1113.0,999.4L1118.4,994.0M1116.0,999.4L1121.4,994.0M1118.9,999.4L1124.3,994.0M1121.8,999.4L1127.2,994.0M1124.8,999.4L1130.2,994.0M1127.7,999.4L1133.1,994.0M1130.7,999.4L1136.1,994.0M1133.6,999.4L1139.0,994.0M1136.5,999.4L1141.9,994.0M1139.5,999.4L1144.9,994.0M1142.4,999.4L1147.8,994.0M1145.4,999.4L1150.8,994.0M1148.3,999.4L1153.7,994.0M1151.3,999.4L1156.7,994.0M1154.2,999.4L1159.6,994.0M1157.1,999.4L1162.5,994.0M1160.1,999.4L1165.5,994.0M1163.0,999.4L1168.4,994.0M1166.0,999.4L1171.4,994.0M1168.9,999.4L1174.3,994.0M1171.8,999.4L1177.2,994.0M1174.8,999.4L1180.2,994.0M1177.7,999.4L1183.1,994.0M1180.7,999.4L1186.1,994.0M1183.6,999.4L1189.0,994.0M1186.5,999.4L1191.9,994.0M1189.5,999.4L1194.9,994.0M1192.4,999.4L1197.8,994.0M1195.4,999.4L1200.8,994.0M1198.3,999.4L1203.7,994.0M1201.2,999.4L1206.6,994.0M1204.2,999.4L1209.6,994.0M1207.1,999.4L1212.5,994.0M1210.1,999.4L1215.5,994.0M1213.0,999.4L1218.4,994.0M1215.9,999.4L1221.3,994.0M1218.9,999.4L1224.3,994.0M1221.8,999.4L1227.2,994.0M1224.8,999.4L1230.2,994.0M1227.7,999.4L1233.1,994.0M1230.6,999.4L1236.0,994.0M1233.6,999.4L1239.0,994.0M1236.5,999.4L1241.9,994.0M1239.5,999.4L1244.9,994.0M1242.4,999.4L1247.8,994.0M1245.3,999.4L1250.7,994.0M1248.3,999.4L1253.7,994.0M1251.2,999.4L1256.6,994.0M1254.2,999.4L1259.6,994.0M1257.1,999.4L1262.5,994.0M1260.0,999.4L1265.4,994.0M1263.0,999.4L1268.4,994.0M1265.9,999.4L1271.3,994.0M1268.9,999.4L1274.3,994.0M1271.8,999.4L1277.2,994.0M1274.7,999.4L1280.1,994.0M1277.7,999.4L1283.1,994.0M1280.6,999.4L1286.0,994.0M1283.6,999.4L1289.0,994.0M1286.5,999.4L1291.9,994.0M1289.4,999.4L1294.8,994.0M1292.4,999.4L1297.8,994.0M1295.3,999.4L1300.7,994.0M1298.3,999.4L1303.7,994.0M1301.2,999.4L1306.6,994.0M1304.2,999.4L1309.6,994.0M1307.1,999.4L1312.5,994.0M1310.0,999.4L1315.4,994.0M1313.0,999.4L1318.4,994.0M1315.9,999.4L1321.3,994.0M1318.9,999.4L1324.3,994.0M1321.8,999.4L1327.2,994.0M1324.7,999.4L1330.1,994.0M1327.7,999.4L1333.1,994.0M1330.6,999.4L1336.0,994.0M1333.6,999.4L1339.0,994.0M1336.5,999.4L1341.9,994.0M1339.4,999.4L1344.8,994.0M1342.4,999.4L1347.8,994.0M1345.3,999.4L1350.7,994.0M1348.3,999.4L1353.7,994.0M1351.2,999.4L1356.6,994.0M1354.1,999.4L1359.5,994.0M1357.1,999.4L1362.5,994.0M1360.0,999.4L1365.4,994.0M1363.0,999.4L1368.4,994.0M1365.9,999.4L1371.3,994.0M1368.8,999.4L1374.2,994.0M1371.8,999.4L1377.2,994.0M1374.7,999.4L1380.1,994.0M1377.7,999.4L1383.1,994.0M1380.6,999.4L1386.0,994.0M1383.5,999.4L1388.9,994.0M1386.5,999.4L1391.9,994.0M1389.4,999.4L1394.8,994.0M1392.4,999.4L1397.8,994.0M1395.3,999.4L1400.7,994.0M1398.2,999.4L1403.6,994.0M1401.2,999.4L1406.6,994.0M1404.1,999.4L1409.5,994.0M1407.1,999.4L1412.5,994.0M1410.0,999.4L1415.4,994.0M1412.9,999.4L1418.3,994.0M1415.9,999.4L1421.3,994.0M1418.8,999.4L1424.2,994.0M1421.8,999.4L1427.2,994.0M1424.7,999.4L1430.1,994.0M1427.6,999.4L1433.0,994.0M1430.6,999.4L1436.0,994.0M1433.5,999.4L1438.9,994.0M1436.5,999.4L1441.9,994.0M1439.4,999.4L1444.8,994.0M1442.4,999.4L1447.8,994.0M1445.3,999.4L1450.7,994.0M1448.2,999.4L1453.6,994.0M1451.2,999.4L1456.6,994.0M1454.1,999.4L1459.5,994.0M1457.1,999.4L1462.5,994.0M1460.0,999.4L1465.4,994.0M1462.9,999.4L1468.3,994.0M1465.9,999.4L1471.3,994.0M1468.8,999.4L1474.2,994.0M1471.8,999.4L1477.2,994.0M1474.7,999.4L1480.1,994.0M1477.6,999.4L1483.0,994.0M1480.6,999.4L1486.0,994.0M1483.5,999.4L1488.9,994.0M1486.5,999.4L1491.9,994.0M1489.4,999.4L1494.8,994.0M1492.3,999.4L1497.7,994.0M1495.3,999.4L1500.7,994.0M1498.2,999.4L1503.6,994.0M1501.2,999.4L1506.6,994.0M1504.1,999.4L1509.5,994.0M1507.0,999.4L1512.4,994.0M1510.0,999.4L1515.4,994.0M1512.9,999.4L1518.3,994.0M1515.9,999.4L1521.3,994.0M1518.8,999.4L1524.2,994.0M1521.7,999.4L1527.1,994.0M1524.7,999.4L1530.1,994.0M1527.6,999.4L1533.0,994.0M1530.6,999.4L1536.0,994.0M1533.5,999.4L1538.9,994.0M1536.4,999.4L1541.8,994.0M1539.4,999.4L1544.8,994.0M1542.3,999.4L1547.7,994.0M1545.3,999.4L1550.7,994.0M1548.2,999.4L1553.6,994.0M1551.1,999.4L1556.5,994.0M1554.1,999.4L1559.5,994.0M1557.0,999.4L1562.4,994.0M1560.0,999.4L1565.4,994.0M1562.9,999.4L1568.3,994.0M1565.8,999.4L1571.2,994.0M1568.8,999.4L1574.2,994.0M1571.7,999.4L1577.1,994.0M1574.7,999.4L1580.1,994.0M1577.5,999.3L1583.1,994.2M1580.0,999.2L1586.4,995.1M1582.5,999.5L1589.5,996.5M1584.9,1000.2L1592.4,998.5M1587.2,1001.3L1594.8,1000.9M1589.2,1002.8L1596.8,1003.6M1591.0,1004.6L1598.3,1006.7M1592.4,1006.7L1599.3,1010.0M1593.5,1009.0L1599.8,1013.3M1594.2,1011.4L1599.6,1016.8M1594.2,1014.3L1599.6,1019.7M1594.2,1017.3L1599.6,1022.7M1594.2,1020.2L1599.6,1025.6M1594.2,1023.1L1599.6,1028.5M1594.2,1026.1L1599.6,1031.5M1594.2,1029.0L1599.6,1034.4M1594.2,1032.0L1599.6,1037.4M1594.2,1034.9L1599.6,1040.3M1594.2,1037.8L1599.6,1043.2M1594.2,1040.8L1599.6,1046.2M1594.2,1043.7L1599.6,1049.1M1594.2,1046.7L1599.6,1052.1M1594.2,1049.6L1599.6,1055.0M1594.2,1052.5L1599.6,1057.9M1594.2,1055.5L1599.6,1060.9M1594.2,1058.4L1599.6,1063.8M1594.2,1061.4L1599.6,1066.8M1594.2,1064.3L1599.6,1069.7M1594.2,1067.3L1599.6,1072.7M1594.2,1070.2L1599.6,1075.6M1594.2,1073.1L1599.6,1078.5M1594.2,1076.1L1599.6,1081.5M1594.2,1079.0L1599.6,1084.4M1594.2,1082.0L1599.6,1087.4M1594.2,1084.9L1599.6,1090.3M1594.2,1087.8L1599.6,1093.2M1594.2,1090.8L1599.6,1096.2M1594.2,1093.7L1599.6,1099.1M1594.2,1096.7L1599.6,1102.1M1594.2,1099.6L1599.6,1105.0M1594.2,1102.5L1599.6,1107.9M1594.2,1105.5L1599.6,1110.9M1594.2,1108.4L1599.6,1113.8M1594.2,1111.4L1599.6,1116.8M1594.2,1114.3L1599.6,1119.7M1594.2,1117.2L1599.6,1122.6M1594.2,1120.2L1599.6,1125.6M1594.2,1123.1L1599.6,1128.5M1594.2,1126.1L1599.6,1131.5M1594.2,1129.0L1599.6,1134.4M1594.2,1131.9L1599.6,1137.3M1594.2,1134.9L1599.6,1140.3M1594.2,1137.8L1599.6,1143.2M1594.2,1140.8L1599.6,1146.2M1594.2,1143.7L1599.6,1149.1M1594.2,1146.6L1599.6,1152.0M1594.2,1149.6L1599.6,1155.0M1594.2,1152.5L1599.6,1157.9M1594.2,1155.5L1599.6,1160.9M1594.2,1158.4L1599.6,1163.8M1594.2,1161.3L1599.6,1166.7M1594.2,1164.3L1599.6,1169.7M1594.3,1167.1L1599.4,1172.8M1594.4,1169.6L1598.5,1176.1M1594.1,1172.1L1597.0,1179.2M1593.4,1174.5L1595.0,1182.0M1592.2,1176.8L1592.6,1184.4M1590.7,1178.8L1589.9,1186.4M1588.9,1180.6L1586.8,1187.9M1586.8,1182.0L1583.5,1188.9M1584.5,1183.0L1580.1,1189.3M1582.1,1183.7L1576.7,1189.1M1579.2,1183.7L1573.8,1189.1M1576.2,1183.7L1570.8,1189.1M1573.3,1183.7L1567.9,1189.1M1570.3,1183.7L1564.9,1189.1M1567.4,1183.7L1562.0,1189.1M1564.5,1183.7L1559.1,1189.1M1561.5,1183.7L1556.1,1189.1M1558.6,1183.7L1553.2,1189.1M1555.6,1183.7L1550.2,1189.1M1552.7,1183.7L1547.3,1189.1M1549.8,1183.7L1544.4,1189.1M1546.8,1183.7L1541.4,1189.1M1543.9,1183.7L1538.5,1189.1M1540.9,1183.7L1535.5,1189.1M1538.0,1183.7L1532.6,1189.1M1535.1,1183.7L1529.7,1189.1M1532.1,1183.7L1526.7,1189.1M1529.2,1183.7L1523.8,1189.1M1526.2,1183.7L1520.8,1189.1M1523.3,1183.7L1517.9,1189.1M1520.4,1183.7L1515.0,1189.1M1517.4,1183.7L1512.0,1189.1M1514.5,1183.7L1509.1,1189.1M1511.5,1183.7L1506.1,1189.1M1508.6,1183.7L1503.2,1189.1M1505.6,1183.7L1500.2,1189.1M1502.7,1183.7L1497.3,1189.1M1499.8,1183.7L1494.4,1189.1M1496.8,1183.7L1491.4,1189.1M1493.9,1183.7L1488.5,1189.1M1490.9,1183.7L1485.5,1189.1M1488.0,1183.7L1482.6,1189.1M1485.1,1183.7L1479.7,1189.1M1482.1,1183.7L1476.7,1189.1M1479.2,1183.7L1473.8,1189.1M1476.2,1183.7L1470.8,1189.1M1473.3,1183.7L1467.9,1189.1M1470.4,1183.7L1465.0,1189.1M1467.4,1183.7L1462.0,1189.1M1464.5,1183.7L1459.1,1189.1M1461.5,1183.7L1456.1,1189.1M1458.6,1183.7L1453.2,1189.1M1455.7,1183.7L1450.3,1189.1M1452.7,1183.7L1447.3,1189.1M1449.8,1183.7L1444.4,1189.1M1446.8,1183.7L1441.4,1189.1M1443.9,1183.7L1438.5,1189.1M1441.0,1183.7L1435.6,1189.1M1438.0,1183.7L1432.6,1189.1M1435.1,1183.7L1429.7,1189.1M1432.1,1183.7L1426.7,1189.1M1429.2,1183.7L1423.8,1189.1M1426.3,1183.7L1420.9,1189.1M1423.3,1183.7L1417.9,1189.1M1420.4,1183.7L1415.0,1189.1M1417.4,1183.7L1412.0,1189.1M1414.5,1183.7L1409.1,1189.1M1411.6,1183.7L1406.2,1189.1M1408.6,1183.7L1403.2,1189.1M1405.7,1183.7L1400.3,1189.1M1402.7,1183.7L1397.3,1189.1M1399.8,1183.7L1394.4,1189.1M1396.9,1183.7L1391.5,1189.1M1393.9,1183.7L1388.5,1189.1M1391.0,1183.7L1385.6,1189.1M1388.0,1183.7L1382.6,1189.1M1385.1,1183.7L1379.7,1189.1M1382.2,1183.7L1376.8,1189.1M1379.2,1183.7L1373.8,1189.1M1376.3,1183.7L1370.9,1189.1M1373.3,1183.7L1367.9,1189.1M1370.4,1183.7L1365.0,1189.1M1367.5,1183.7L1362.1,1189.1M1364.5,1183.7L1359.1,1189.1M1361.6,1183.7L1356.2,1189.1M1358.6,1183.7L1353.2,1189.1M1355.7,1183.7L1350.3,1189.1M1352.7,1183.7L1347.3,1189.1M1349.8,1183.7L1344.4,1189.1M1346.9,1183.7L1341.5,1189.1M1343.9,1183.7L1338.5,1189.1M1341.0,1183.7L1335.6,1189.1M1338.0,1183.7L1332.6,1189.1M1335.1,1183.7L1329.7,1189.1M1332.2,1183.7L1326.8,1189.1M1329.2,1183.7L1323.8,1189.1M1326.3,1183.7L1320.9,1189.1M1323.3,1183.7L1317.9,1189.1M1320.4,1183.7L1315.0,1189.1M1317.5,1183.7L1312.1,1189.1M1314.5,1183.7L1309.1,1189.1M1311.6,1183.7L1306.2,1189.1M1308.6,1183.7L1303.2,1189.1M1305.7,1183.7L1300.3,1189.1M1302.8,1183.7L1297.4,1189.1M1299.8,1183.7L1294.4,1189.1M1296.9,1183.7L1291.5,1189.1M1293.9,1183.7L1288.5,1189.1M1291.0,1183.7L1285.6,1189.1M1288.1,1183.7L1282.7,1189.1M1285.1,1183.7L1279.7,1189.1M1282.2,1183.7L1276.8,1189.1M1279.2,1183.7L1273.8,1189.1M1276.3,1183.7L1270.9,1189.1M1273.4,1183.7L1268.0,1189.1M1270.4,1183.7L1265.0,1189.1M1267.5,1183.7L1262.1,1189.1M1264.5,1183.7L1259.1,1189.1M1261.6,1183.7L1256.2,1189.1M1258.7,1183.7L1253.3,1189.1M1255.7,1183.7L1250.3,1189.1M1252.8,1183.7L1247.4,1189.1M1249.8,1183.7L1244.4,1189.1M1246.9,1183.7L1241.5,1189.1M1244.0,1183.7L1238.6,1189.1M1241.0,1183.7L1235.6,1189.1M1238.1,1183.7L1232.7,1189.1M1235.1,1183.7L1229.7,1189.1M1232.2,1183.7L1226.8,1189.1M1229.3,1183.7L1223.9,1189.1M1226.3,1183.7L1220.9,1189.1M1223.4,1183.7L1218.0,1189.1M1220.4,1183.7L1215.0,1189.1M1217.5,1183.7L1212.1,1189.1M1214.5,1183.7L1209.1,1189.1M1211.6,1183.7L1206.2,1189.1M1208.7,1183.7L1203.3,1189.1M1205.7,1183.7L1200.3,1189.1M1202.8,1183.7L1197.4,1189.1M1199.8,1183.7L1194.4,1189.1M1196.9,1183.7L1191.5,1189.1M1194.0,1183.7L1188.6,1189.1M1191.0,1183.7L1185.6,1189.1M1188.1,1183.7L1182.7,1189.1M1185.1,1183.7L1179.7,1189.1M1182.2,1183.7L1176.8,1189.1M1179.3,1183.7L1173.9,1189.1M1176.3,1183.7L1170.9,1189.1M1173.4,1183.7L1168.0,1189.1M1170.4,1183.7L1165.0,1189.1M1167.5,1183.7L1162.1,1189.1M1164.6,1183.7L1159.2,1189.1M1161.6,1183.7L1156.2,1189.1M1158.7,1183.7L1153.3,1189.1M1155.7,1183.7L1150.3,1189.1M1152.8,1183.7L1147.4,1189.1M1149.9,1183.7L1144.5,1189.1M1146.9,1183.7L1141.5,1189.1M1144.0,1183.7L1138.6,1189.1M1141.0,1183.7L1135.6,1189.1M1138.1,1183.7L1132.7,1189.1M1135.2,1183.7L1129.8,1189.1M1132.2,1183.7L1126.8,1189.1M1129.3,1183.7L1123.9,1189.1M1126.3,1183.7L1120.9,1189.1M1123.4,1183.7L1118.0,1189.1M1120.5,1183.7L1115.1,1189.1M1117.5,1183.7L1112.1,1189.1M1114.6,1183.7L1109.2,1189.1M1111.6,1183.7L1106.2,1189.1M1108.7,1183.7L1103.3,1189.1M1105.8,1183.7L1100.4,1189.1M1102.8,1183.7L1097.4,1189.1M1099.9,1183.7L1094.5,1189.1M1096.9,1183.7L1091.5,1189.1M1094.0,1183.7L1088.6,1189.1M1091.1,1183.7L1085.7,1189.1M1088.1,1183.7L1082.7,1189.1M1085.2,1183.7L1079.8,1189.1M1082.2,1183.7L1076.8,1189.1M1079.4,1183.8L1073.8,1188.9M1076.9,1183.9L1070.5,1188.0M1074.4,1183.6L1067.4,1186.6M1072.0,1182.9L1064.5,1184.6M1069.7,1181.8L1062.1,1182.2M1067.7,1180.3L1060.1,1179.5M1065.9,1178.5L1058.6,1176.4M1064.5,1176.4L1057.6,1173.1M1063.4,1174.1L1057.1,1169.8M1062.7,1171.7L1057.3,1166.3M1062.7,1168.8L1057.3,1163.4M1062.7,1165.8L1057.3,1160.4M1062.7,1162.9L1057.3,1157.5M1062.7,1160.0L1057.3,1154.6M1062.7,1157.0L1057.3,1151.6M1062.7,1154.1L1057.3,1148.7M1062.7,1151.1L1057.3,1145.7M1062.7,1148.2L1057.3,1142.8M1062.7,1145.3L1057.3,1139.9M1062.7,1142.3L1057.3,1136.9M1062.7,1139.4L1057.3,1134.0M1062.7,1136.4L1057.3,1131.0M1062.7,1133.5L1057.3,1128.1M1062.7,1130.6L1057.3,1125.2M1062.7,1127.6L1057.3,1122.2M1062.7,1124.7L1057.3,1119.3M1062.7,1121.7L1057.3,1116.3M1062.7,1118.8L1057.3,1113.4M1062.7,1115.8L1057.3,1110.4M1062.7,1112.9L1057.3,1107.5M1062.7,1110.0L1057.3,1104.6M1062.7,1107.0L1057.3,1101.6M1062.7,1104.1L1057.3,1098.7M1062.7,1101.1L1057.3,1095.7M1062.7,1098.2L1057.3,1092.8M1062.7,1095.3L1057.3,1089.9M1062.7,1092.3L1057.3,1086.9M1062.7,1089.4L1057.3,1084.0M1062.7,1086.4L1057.3,1081.0M1062.7,1083.5L1057.3,1078.1M1062.7,1080.6L1057.3,1075.2M1062.7,1077.6L1057.3,1072.2M1062.7,1074.7L1057.3,1069.3M1062.7,1071.7L1057.3,1066.3M1062.7,1068.8L1057.3,1063.4M1062.7,1065.9L1057.3,1060.5M1062.7,1062.9L1057.3,1057.5M1062.7,1060.0L1057.3,1054.6M1062.7,1057.0L1057.3,1051.6M1062.7,1054.1L1057.3,1048.7M1062.7,1051.2L1057.3,1045.8M1062.7,1048.2L1057.3,1042.8M1062.7,1045.3L1057.3,1039.9M1062.7,1042.3L1057.3,1036.9M1062.7,1039.4L1057.3,1034.0M1062.7,1036.5L1057.3,1031.1M1062.7,1033.5L1057.3,1028.1M1062.7,1030.6L1057.3,1025.2M1062.7,1027.6L1057.3,1022.2M1062.7,1024.7L1057.3,1019.3M1062.7,1021.8L1057.3,1016.4M1062.7,1018.8L1057.3,1013.4M1062.6,1016.0L1057.5,1010.3M1062.5,1013.5L1058.4,1007.0M1062.8,1011.0L1059.9,1003.9M1063.5,1008.6L1061.9,1001.1M1064.7,1006.3L1064.3,998.7M1066.2,1004.3L1067.0,996.7M1068.0,1002.5L1070.1,995.2M1070.1,1001.1L1073.4,994.2M1072.4,1000.1L1076.8,993.8" stroke="url(#qgd)" stroke-width="1.15" fill="none"/>
<path d="M1106.05,1042.05h27.02v3.91h-27.02zM1136.93,1042.05h3.86v3.91h-3.86zM1148.50,1042.05h3.86v3.91h-3.86zM1160.08,1042.05h27.02v3.91h-27.02zM1106.05,1045.91h3.86v3.91h-3.86zM1129.21,1045.91h3.86v3.91h-3.86zM1140.79,1045.91h7.72v3.91h-7.72zM1152.36,1045.91h3.86v3.91h-3.86zM1160.08,1045.91h3.86v3.91h-3.86zM1183.24,1045.91h3.86v3.91h-3.86zM1106.05,1049.77h3.86v3.91h-3.86zM1113.77,1049.77h11.58v3.91h-11.58zM1129.21,1049.77h3.86v3.91h-3.86zM1148.50,1049.77h7.72v3.91h-7.72zM1160.08,1049.77h3.86v3.91h-3.86zM1167.80,1049.77h11.58v3.91h-11.58zM1183.24,1049.77h3.86v3.91h-3.86zM1106.05,1053.63h3.86v3.91h-3.86zM1113.77,1053.63h11.58v3.91h-11.58zM1129.21,1053.63h3.86v3.91h-3.86zM1136.93,1053.63h3.86v3.91h-3.86zM1148.50,1053.63h3.86v3.91h-3.86zM1160.08,1053.63h3.86v3.91h-3.86zM1167.80,1053.63h11.58v3.91h-11.58zM1183.24,1053.63h3.86v3.91h-3.86zM1106.05,1057.49h3.86v3.91h-3.86zM1113.77,1057.49h11.58v3.91h-11.58zM1129.21,1057.49h3.86v3.91h-3.86zM1136.93,1057.49h3.86v3.91h-3.86zM1152.36,1057.49h3.86v3.91h-3.86zM1160.08,1057.49h3.86v3.91h-3.86zM1167.80,1057.49h11.58v3.91h-11.58zM1183.24,1057.49h3.86v3.91h-3.86zM1106.05,1061.35h3.86v3.91h-3.86zM1129.21,1061.35h3.86v3.91h-3.86zM1136.93,1061.35h3.86v3.91h-3.86zM1144.65,1061.35h3.86v3.91h-3.86zM1152.36,1061.35h3.86v3.91h-3.86zM1160.08,1061.35h3.86v3.91h-3.86zM1183.24,1061.35h3.86v3.91h-3.86zM1106.05,1065.21h27.02v3.91h-27.02zM1136.93,1065.21h3.86v3.91h-3.86zM1144.65,1065.21h3.86v3.91h-3.86zM1152.36,1065.21h3.86v3.91h-3.86zM1160.08,1065.21h27.02v3.91h-27.02zM1136.93,1069.07h3.86v3.91h-3.86zM1106.05,1072.93h3.86v3.91h-3.86zM1121.49,1072.93h3.86v3.91h-3.86zM1129.21,1072.93h11.58v3.91h-11.58zM1148.50,1072.93h27.02v3.91h-27.02zM1183.24,1072.93h3.86v3.91h-3.86zM1106.05,1076.79h3.86v3.91h-3.86zM1113.77,1076.79h3.86v3.91h-3.86zM1125.35,1076.79h3.86v3.91h-3.86zM1133.07,1076.79h7.72v3.91h-7.72zM1148.50,1076.79h3.86v3.91h-3.86zM1167.80,1076.79h3.86v3.91h-3.86zM1179.38,1076.79h3.86v3.91h-3.86zM1109.91,1080.65h3.86v3.91h-3.86zM1121.49,1080.65h15.44v3.91h-15.44zM1160.08,1080.65h11.58v3.91h-11.58zM1179.38,1080.65h3.86v3.91h-3.86zM1106.05,1084.50h7.72v3.91h-7.72zM1117.63,1084.50h3.86v3.91h-3.86zM1133.07,1084.50h3.86v3.91h-3.86zM1156.22,1084.50h3.86v3.91h-3.86zM1167.80,1084.50h3.86v3.91h-3.86zM1183.24,1084.50h3.86v3.91h-3.86zM1106.05,1088.36h3.86v3.91h-3.86zM1117.63,1088.36h3.86v3.91h-3.86zM1129.21,1088.36h3.86v3.91h-3.86zM1163.94,1088.36h7.72v3.91h-7.72zM1183.24,1088.36h3.86v3.91h-3.86zM1160.08,1092.22h3.86v3.91h-3.86zM1167.80,1092.22h7.72v3.91h-7.72zM1179.38,1092.22h3.86v3.91h-3.86zM1106.05,1096.08h27.02v3.91h-27.02zM1160.08,1096.08h3.86v3.91h-3.86zM1167.80,1096.08h15.44v3.91h-15.44zM1106.05,1099.94h3.86v3.91h-3.86zM1129.21,1099.94h3.86v3.91h-3.86zM1156.22,1099.94h3.86v3.91h-3.86zM1167.80,1099.94h3.86v3.91h-3.86zM1183.24,1099.94h3.86v3.91h-3.86zM1106.05,1103.80h3.86v3.91h-3.86zM1113.77,1103.80h11.58v3.91h-11.58zM1129.21,1103.80h3.86v3.91h-3.86zM1136.93,1103.80h3.86v3.91h-3.86zM1148.50,1103.80h3.86v3.91h-3.86zM1156.22,1103.80h3.86v3.91h-3.86zM1106.05,1107.66h3.86v3.91h-3.86zM1113.77,1107.66h11.58v3.91h-11.58zM1129.21,1107.66h3.86v3.91h-3.86zM1140.79,1107.66h7.72v3.91h-7.72zM1160.08,1107.66h3.86v3.91h-3.86zM1167.80,1107.66h19.30v3.91h-19.30zM1106.05,1111.52h3.86v3.91h-3.86zM1113.77,1111.52h11.58v3.91h-11.58zM1129.21,1111.52h3.86v3.91h-3.86zM1140.79,1111.52h3.86v3.91h-3.86zM1148.50,1111.52h3.86v3.91h-3.86zM1156.22,1111.52h3.86v3.91h-3.86zM1167.80,1111.52h3.86v3.91h-3.86zM1175.52,1111.52h3.86v3.91h-3.86zM1106.05,1115.38h3.86v3.91h-3.86zM1129.21,1115.38h3.86v3.91h-3.86zM1140.79,1115.38h3.86v3.91h-3.86zM1156.22,1115.38h3.86v3.91h-3.86zM1163.94,1115.38h3.86v3.91h-3.86zM1106.05,1119.24h27.02v3.91h-27.02zM1136.93,1119.24h3.86v3.91h-3.86zM1152.36,1119.24h7.72v3.91h-7.72zM1171.66,1119.24h3.86v3.91h-3.86zM1183.24,1119.24h3.86v3.91h-3.86z" fill="#0F5FA8"/>
<path d="M1109.91,1042.05v81.05M1113.77,1042.05v81.05M1117.63,1042.05v81.05M1121.49,1042.05v81.05M1125.35,1042.05v81.05M1129.21,1042.05v81.05M1133.07,1042.05v81.05M1136.93,1042.05v81.05M1140.79,1042.05v81.05M1144.65,1042.05v81.05M1148.50,1042.05v81.05M1152.36,1042.05v81.05M1156.22,1042.05v81.05M1160.08,1042.05v81.05M1163.94,1042.05v81.05M1167.80,1042.05v81.05M1171.66,1042.05v81.05M1175.52,1042.05v81.05M1179.38,1042.05v81.05M1183.24,1042.05v81.05" stroke="#fff" stroke-width="0.45" stroke-opacity="0.5" fill="none"/>
<circle cx="1146.8" cy="1092.4" r="12.6" fill="#fff"/><path d="M1136.94,1091.54 A9.9,9.9 0 0 1 1145.08,1082.65" fill="none" stroke="#C6C7C8" stroke-width="2.5"/><path d="M1148.52,1082.65 A9.9,9.9 0 0 1 1154.60,1086.30" fill="none" stroke="#3DB7B4" stroke-width="2.5"/><path d="M1154.81,1086.58 A9.9,9.9 0 0 1 1156.69,1092.75" fill="none" stroke="#2A4FA5" stroke-width="2.5"/><path d="M1156.68,1093.09 A9.9,9.9 0 0 1 1154.91,1098.08" fill="none" stroke="#E22866" stroke-width="2.5"/><path d="M1154.71,1098.36 A9.9,9.9 0 0 1 1147.15,1102.29" fill="none" stroke="#F08712" stroke-width="2.5"/><path d="M1146.63,1102.30 A9.9,9.9 0 0 1 1136.91,1092.05" fill="none" stroke="#12A152" stroke-width="2.5"/><rect x="1140.6" y="1090.2" width="12.4" height="4.2" rx="0.8" fill="#3c3c3b"/>
<path d="M1446.10,1041.10h20.73v3.01h-20.73zM1475.72,1041.10h2.96v3.01h-2.96zM1484.61,1041.10h8.89v3.01h-8.89zM1505.34,1041.10h2.96v3.01h-2.96zM1511.27,1041.10h20.73v3.01h-20.73zM1446.10,1044.06h2.96v3.01h-2.96zM1463.87,1044.06h2.96v3.01h-2.96zM1478.68,1044.06h2.96v3.01h-2.96zM1484.61,1044.06h11.85v3.01h-11.85zM1499.42,1044.06h5.92v3.01h-5.92zM1511.27,1044.06h2.96v3.01h-2.96zM1529.04,1044.06h2.96v3.01h-2.96zM1446.10,1047.02h2.96v3.01h-2.96zM1452.02,1047.02h8.89v3.01h-8.89zM1463.87,1047.02h2.96v3.01h-2.96zM1469.80,1047.02h5.92v3.01h-5.92zM1481.64,1047.02h5.92v3.01h-5.92zM1490.53,1047.02h2.96v3.01h-2.96zM1496.46,1047.02h5.92v3.01h-5.92zM1511.27,1047.02h2.96v3.01h-2.96zM1517.19,1047.02h8.89v3.01h-8.89zM1529.04,1047.02h2.96v3.01h-2.96zM1446.10,1049.99h2.96v3.01h-2.96zM1452.02,1049.99h8.89v3.01h-8.89zM1463.87,1049.99h2.96v3.01h-2.96zM1469.80,1049.99h5.92v3.01h-5.92zM1478.68,1049.99h5.92v3.01h-5.92zM1487.57,1049.99h5.92v3.01h-5.92zM1496.46,1049.99h5.92v3.01h-5.92zM1505.34,1049.99h2.96v3.01h-2.96zM1511.27,1049.99h2.96v3.01h-2.96zM1517.19,1049.99h8.89v3.01h-8.89zM1529.04,1049.99h2.96v3.01h-2.96zM1446.10,1052.95h2.96v3.01h-2.96zM1452.02,1052.95h8.89v3.01h-8.89zM1463.87,1052.95h2.96v3.01h-2.96zM1469.80,1052.95h8.89v3.01h-8.89zM1490.53,1052.95h8.89v3.01h-8.89zM1502.38,1052.95h2.96v3.01h-2.96zM1511.27,1052.95h2.96v3.01h-2.96zM1517.19,1052.95h8.89v3.01h-8.89zM1529.04,1052.95h2.96v3.01h-2.96zM1446.10,1055.91h2.96v3.01h-2.96zM1463.87,1055.91h2.96v3.01h-2.96zM1469.80,1055.91h2.96v3.01h-2.96zM1475.72,1055.91h2.96v3.01h-2.96zM1481.64,1055.91h2.96v3.01h-2.96zM1502.38,1055.91h2.96v3.01h-2.96zM1511.27,1055.91h2.96v3.01h-2.96zM1529.04,1055.91h2.96v3.01h-2.96zM1446.10,1058.87h20.73v3.01h-20.73zM1469.80,1058.87h2.96v3.01h-2.96zM1475.72,1058.87h2.96v3.01h-2.96zM1481.64,1058.87h2.96v3.01h-2.96zM1487.57,1058.87h2.96v3.01h-2.96zM1493.49,1058.87h2.96v3.01h-2.96zM1499.42,1058.87h2.96v3.01h-2.96zM1505.34,1058.87h2.96v3.01h-2.96zM1511.27,1058.87h20.73v3.01h-20.73zM1469.80,1061.83h2.96v3.01h-2.96zM1478.68,1061.83h5.92v3.01h-5.92zM1487.57,1061.83h2.96v3.01h-2.96zM1493.49,1061.83h5.92v3.01h-5.92zM1446.10,1064.80h2.96v3.01h-2.96zM1452.02,1064.80h14.81v3.01h-14.81zM1475.72,1064.80h8.89v3.01h-8.89zM1505.34,1064.80h2.96v3.01h-2.96zM1511.27,1064.80h14.81v3.01h-14.81zM1449.06,1067.76h8.89v3.01h-8.89zM1469.80,1067.76h2.96v3.01h-2.96zM1475.72,1067.76h2.96v3.01h-2.96zM1484.61,1067.76h8.89v3.01h-8.89zM1505.34,1067.76h2.96v3.01h-2.96zM1514.23,1067.76h2.96v3.01h-2.96zM1529.04,1067.76h2.96v3.01h-2.96zM1452.02,1070.72h8.89v3.01h-8.89zM1463.87,1070.72h32.58v3.01h-32.58zM1499.42,1070.72h11.85v3.01h-11.85zM1449.06,1073.68h2.96v3.01h-2.96zM1457.95,1073.68h2.96v3.01h-2.96zM1469.80,1073.68h5.92v3.01h-5.92zM1478.68,1073.68h2.96v3.01h-2.96zM1493.49,1073.68h5.92v3.01h-5.92zM1505.34,1073.68h5.92v3.01h-5.92zM1514.23,1073.68h2.96v3.01h-2.96zM1520.15,1073.68h2.96v3.01h-2.96zM1526.08,1073.68h2.96v3.01h-2.96zM1446.10,1076.64h2.96v3.01h-2.96zM1454.99,1076.64h11.85v3.01h-11.85zM1499.42,1076.64h17.77v3.01h-17.77zM1520.15,1076.64h5.92v3.01h-5.92zM1449.06,1079.61h5.92v3.01h-5.92zM1457.95,1079.61h2.96v3.01h-2.96zM1466.83,1079.61h2.96v3.01h-2.96zM1475.72,1079.61h2.96v3.01h-2.96zM1499.42,1079.61h5.92v3.01h-5.92zM1508.30,1079.61h5.92v3.01h-5.92zM1529.04,1079.61h2.96v3.01h-2.96zM1449.06,1082.57h2.96v3.01h-2.96zM1454.99,1082.57h5.92v3.01h-5.92zM1463.87,1082.57h2.96v3.01h-2.96zM1478.68,1082.57h2.96v3.01h-2.96zM1499.42,1082.57h5.92v3.01h-5.92zM1508.30,1082.57h5.92v3.01h-5.92zM1517.19,1082.57h8.89v3.01h-8.89zM1446.10,1085.53h2.96v3.01h-2.96zM1457.95,1085.53h5.92v3.01h-5.92zM1466.83,1085.53h5.92v3.01h-5.92zM1508.30,1085.53h2.96v3.01h-2.96zM1517.19,1085.53h2.96v3.01h-2.96zM1526.08,1085.53h2.96v3.01h-2.96zM1446.10,1088.49h5.92v3.01h-5.92zM1454.99,1088.49h2.96v3.01h-2.96zM1463.87,1088.49h5.92v3.01h-5.92zM1505.34,1088.49h2.96v3.01h-2.96zM1511.27,1088.49h14.81v3.01h-14.81zM1446.10,1091.46h2.96v3.01h-2.96zM1460.91,1091.46h2.96v3.01h-2.96zM1469.80,1091.46h8.89v3.01h-8.89zM1505.34,1091.46h2.96v3.01h-2.96zM1514.23,1091.46h2.96v3.01h-2.96zM1523.11,1091.46h2.96v3.01h-2.96zM1529.04,1091.46h2.96v3.01h-2.96zM1446.10,1094.42h2.96v3.01h-2.96zM1452.02,1094.42h2.96v3.01h-2.96zM1457.95,1094.42h11.85v3.01h-11.85zM1472.76,1094.42h8.89v3.01h-8.89zM1499.42,1094.42h5.92v3.01h-5.92zM1508.30,1094.42h2.96v3.01h-2.96zM1517.19,1094.42h2.96v3.01h-2.96zM1523.11,1094.42h2.96v3.01h-2.96zM1446.10,1097.38h2.96v3.01h-2.96zM1457.95,1097.38h2.96v3.01h-2.96zM1469.80,1097.38h2.96v3.01h-2.96zM1475.72,1097.38h2.96v3.01h-2.96zM1484.61,1097.38h2.96v3.01h-2.96zM1490.53,1097.38h2.96v3.01h-2.96zM1496.46,1097.38h2.96v3.01h-2.96zM1514.23,1097.38h2.96v3.01h-2.96zM1526.08,1097.38h2.96v3.01h-2.96zM1446.10,1100.34h2.96v3.01h-2.96zM1452.02,1100.34h5.92v3.01h-5.92zM1460.91,1100.34h8.89v3.01h-8.89zM1472.76,1100.34h2.96v3.01h-2.96zM1478.68,1100.34h5.92v3.01h-5.92zM1487.57,1100.34h8.89v3.01h-8.89zM1499.42,1100.34h20.73v3.01h-20.73zM1523.11,1100.34h8.89v3.01h-8.89zM1469.80,1103.30h5.92v3.01h-5.92zM1478.68,1103.30h2.96v3.01h-2.96zM1490.53,1103.30h17.77v3.01h-17.77zM1517.19,1103.30h14.81v3.01h-14.81zM1446.10,1106.27h20.73v3.01h-20.73zM1478.68,1106.27h2.96v3.01h-2.96zM1496.46,1106.27h11.85v3.01h-11.85zM1511.27,1106.27h2.96v3.01h-2.96zM1517.19,1106.27h8.89v3.01h-8.89zM1446.10,1109.23h2.96v3.01h-2.96zM1463.87,1109.23h2.96v3.01h-2.96zM1469.80,1109.23h2.96v3.01h-2.96zM1475.72,1109.23h2.96v3.01h-2.96zM1481.64,1109.23h2.96v3.01h-2.96zM1487.57,1109.23h5.92v3.01h-5.92zM1505.34,1109.23h2.96v3.01h-2.96zM1517.19,1109.23h2.96v3.01h-2.96zM1526.08,1109.23h5.92v3.01h-5.92zM1446.10,1112.19h2.96v3.01h-2.96zM1452.02,1112.19h8.89v3.01h-8.89zM1463.87,1112.19h2.96v3.01h-2.96zM1469.80,1112.19h2.96v3.01h-2.96zM1487.57,1112.19h5.92v3.01h-5.92zM1496.46,1112.19h23.70v3.01h-23.70zM1523.11,1112.19h5.92v3.01h-5.92zM1446.10,1115.15h2.96v3.01h-2.96zM1452.02,1115.15h8.89v3.01h-8.89zM1463.87,1115.15h2.96v3.01h-2.96zM1469.80,1115.15h5.92v3.01h-5.92zM1478.68,1115.15h14.81v3.01h-14.81zM1496.46,1115.15h5.92v3.01h-5.92zM1508.30,1115.15h8.89v3.01h-8.89zM1520.15,1115.15h11.85v3.01h-11.85zM1446.10,1118.11h2.96v3.01h-2.96zM1452.02,1118.11h8.89v3.01h-8.89zM1463.87,1118.11h2.96v3.01h-2.96zM1469.80,1118.11h2.96v3.01h-2.96zM1475.72,1118.11h2.96v3.01h-2.96zM1484.61,1118.11h2.96v3.01h-2.96zM1493.49,1118.11h5.92v3.01h-5.92zM1508.30,1118.11h2.96v3.01h-2.96zM1520.15,1118.11h8.89v3.01h-8.89zM1446.10,1121.08h2.96v3.01h-2.96zM1463.87,1121.08h2.96v3.01h-2.96zM1472.76,1121.08h5.92v3.01h-5.92zM1481.64,1121.08h2.96v3.01h-2.96zM1490.53,1121.08h2.96v3.01h-2.96zM1496.46,1121.08h8.89v3.01h-8.89zM1517.19,1121.08h11.85v3.01h-11.85zM1446.10,1124.04h20.73v3.01h-20.73zM1469.80,1124.04h5.92v3.01h-5.92zM1481.64,1124.04h14.81v3.01h-14.81zM1502.38,1124.04h8.89v3.01h-8.89zM1517.19,1124.04h5.92v3.01h-5.92z" fill="#0E9B58"/>
<path d="M1449.06,1041.1v85.9M1452.02,1041.1v85.9M1454.99,1041.1v85.9M1457.95,1041.1v85.9M1460.91,1041.1v85.9M1463.87,1041.1v85.9M1466.83,1041.1v85.9M1469.80,1041.1v85.9M1472.76,1041.1v85.9M1475.72,1041.1v85.9M1478.68,1041.1v85.9M1481.64,1041.1v85.9M1484.61,1041.1v85.9M1487.57,1041.1v85.9M1490.53,1041.1v85.9M1493.49,1041.1v85.9M1496.46,1041.1v85.9M1499.42,1041.1v85.9M1502.38,1041.1v85.9M1505.34,1041.1v85.9M1508.30,1041.1v85.9M1511.27,1041.1v85.9M1514.23,1041.1v85.9M1517.19,1041.1v85.9M1520.15,1041.1v85.9M1523.11,1041.1v85.9M1526.08,1041.1v85.9M1529.04,1041.1v85.9" stroke="#fff" stroke-width="0.4" stroke-opacity="0.55" fill="none"/>
<circle cx="1489.1" cy="1086.1" r="10.6" fill="#fff"/><path d="M1486.02,1094.56 A9.0,9.0 0 0 1 1484.60,1078.31" fill="none" stroke="#C9C9C9" stroke-width="0.9"/><path d="M1490.66,1077.24 A9.0,9.0 0 0 1 1497.56,1083.02" fill="none" stroke="#2B57A8" stroke-width="1.1"/><path d="M1497.66,1083.32 A9.0,9.0 0 0 1 1496.89,1090.60" fill="none" stroke="#E22866" stroke-width="1.1"/><path d="M1496.73,1090.87 A9.0,9.0 0 0 1 1489.88,1095.07" fill="none" stroke="#F08712" stroke-width="1.1"/><path d="M1489.57,1095.09 A9.0,9.0 0 0 1 1486.32,1094.66" fill="none" stroke="#12A152" stroke-width="1.1"/><rect x="1482.6" y="1085.6999999999998" width="13" height="1.6" fill="#444"/><rect x="1486.1" y="1083.3" width="7" height="1.2" fill="#777"/>
<text x="1240.1" y="1066.6" font-size="14.6" font-weight="bold" fill="#0b0b0b" textLength="161.0" lengthAdjust="spacingAndGlyphs"  stroke="#0b0b0b" stroke-width="0.3">Больше информации</text>
<text x="1226.2" y="1085.8" font-size="14.6" font-weight="bold" fill="#0b0b0b" textLength="173.6" lengthAdjust="spacingAndGlyphs"  stroke="#0b0b0b" stroke-width="0.3">на странице ФМЦ ФГН</text>
<text x="1273.5" y="1104.7" font-size="14.6" font-weight="bold" fill="#0b0b0b" textLength="95.5" lengthAdjust="spacingAndGlyphs"  stroke="#0b0b0b" stroke-width="0.3">и на портале</text>
<text x="1248.3" y="1123.5" font-size="14.6" font-weight="bold" fill="#0b0b0b" textLength="129.7" lengthAdjust="spacingAndGlyphs"  stroke="#0b0b0b" stroke-width="0.3">Моифинансы.рф</text>
<text x="1101.2" y="1164.6" font-size="18.4" font-weight="bold" fill="#15609F" textLength="93.1" lengthAdjust="spacingAndGlyphs" stroke="#15609F" stroke-width="0.9">FINGRAM.REA.RU</text>
<text x="1447.9" y="1161.8" font-size="13.8" font-weight="bold" fill="#161616" textLength="94.7" lengthAdjust="spacingAndGlyphs" stroke="#161616" stroke-width="0.65">МОИФИНАНСЫ.РФ</text>
<rect x="1446.1" y="1166.9" width="14.4" height="3.9" rx="2" fill="#BEBFC0"/><rect x="1461.4" y="1166.9" width="42.9" height="3.9" rx="0" fill="#12A05C"/><rect x="1505.7" y="1166.9" width="9.1" height="3.9" rx="0" fill="#F08A1F"/><rect x="1516.2" y="1166.9" width="9.7" height="3.9" rx="0" fill="#E22D67"/><rect x="1526.7" y="1166.9" width="9.4" height="3.9" rx="0" fill="#1F55AA"/><rect x="1537.0" y="1166.9" width="9.1" height="3.9" rx="2" fill="#3FB6D2"/>

</g>
</svg>
</body></html>
